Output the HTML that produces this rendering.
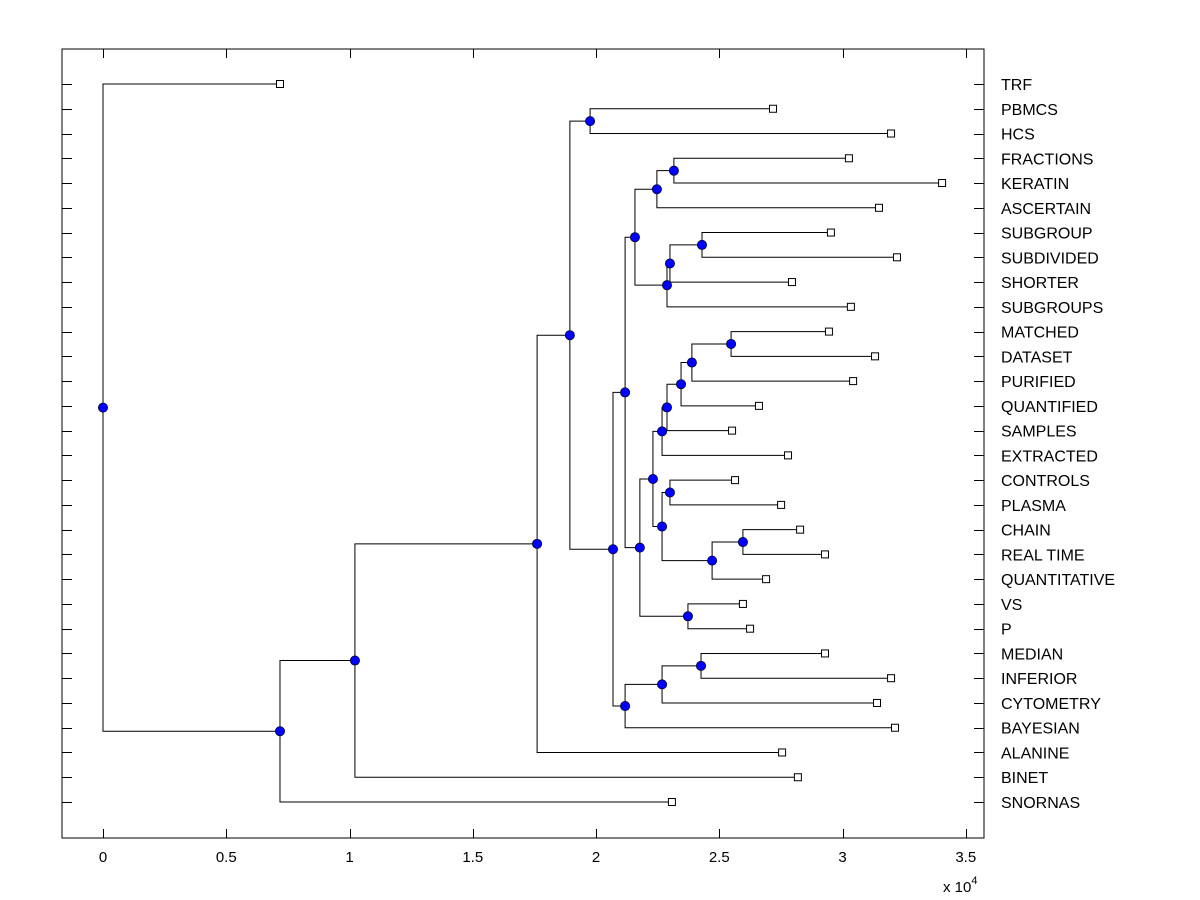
<!DOCTYPE html>
<html><head><meta charset="utf-8"><style>
html,body{margin:0;padding:0;background:#fff;}
svg{display:block;font-family:"Liberation Sans",Arial,sans-serif;}
</style></head><body>
<svg id="chart" width="1200" height="900" viewBox="0 0 1200 900" xmlns="http://www.w3.org/2000/svg">
<rect x="0" y="0" width="1200" height="900" fill="#fff"/>
<g id="ticks"></g>
<g id="links"></g>
<g id="marks"></g>
<g id="labels"></g>
<rect x="62" y="49" width="922" height="789" fill="none" stroke="#000" stroke-width="1"/>
<text x="943" y="892" font-size="15">x 10<tspan dy="-8" font-size="11">4</tspan></text>
</svg>
<script>
// Leaf labels (top to bottom) and their leaf heights (x, in units of 1e4)
const leafNames = ["TRF","PBMCS","HCS","FRACTIONS","KERATIN","ASCERTAIN","SUBGROUP","SUBDIVIDED","SHORTER","SUBGROUPS","MATCHED","DATASET","PURIFIED","QUANTIFIED","SAMPLES","EXTRACTED","CONTROLS","PLASMA","CHAIN","REAL TIME","QUANTITATIVE","VS","P","MEDIAN","INFERIOR","CYTOMETRY","BAYESIAN","ALANINE","BINET","SNORNAS"];
const leafValues = [0.718,2.718,3.197,3.026,3.404,3.148,2.953,3.221,2.795,3.034,2.945,3.132,3.043,2.661,2.552,2.779,2.564,2.751,2.828,2.929,2.690,2.596,2.625,2.929,3.197,3.140,3.213,2.755,2.819,2.308];
// Internal nodes: name, height, children (leaf names or node names)
const nodeNames =   ["root","A","B","C","D","E","F","G","I","K","K1","L1","L2","L3","J","M","M1","M2","M3","M4","M5","N","N1","N2","N3","O","H","H1","H2"];
const nodeValues =  [0,0.718,1.022,1.761,1.894,1.976,2.069,2.118,2.158,2.247,2.316,2.288,2.300,2.430,2.178,2.231,2.268,2.288,2.345,2.389,2.548,2.268,2.300,2.471,2.596,2.373,2.118,2.268,2.426];
const nodeChildren = [["TRF","A"],["B","SNORNAS"],["C","BINET"],["D","ALANINE"],["E","F"],["PBMCS","HCS"],["G","H"],["I","J"],["K","L1"],["K1","ASCERTAIN"],["FRACTIONS","KERATIN"],["L2","SUBGROUPS"],["L3","SHORTER"],["SUBGROUP","SUBDIVIDED"],["M","O"],["M1","N"],["M2","EXTRACTED"],["M3","SAMPLES"],["M4","QUANTIFIED"],["M5","PURIFIED"],["MATCHED","DATASET"],["N1","N2"],["CONTROLS","PLASMA"],["N3","QUANTITATIVE"],["CHAIN","REAL TIME"],["VS","P"],["H1","BAYESIAN"],["H2","CYTOMETRY"],["MEDIAN","INFERIOR"]];
const xTicks = [0,0.5,1,1.5,2,2.5,3,3.5];
const xTickLabels = ["0","0.5","1","1.5","2","2.5","3","3.5"];

const NS="http://www.w3.org/2000/svg";
const X0=103, XS=246.5, Y0=84, YS=718/29;
const xPos=v=>X0+v*XS;
const yPos=i=>Y0+i*YS;
function mk(tag,attrs,parent){const e=document.createElementNS(NS,tag);for(const k in attrs)e.setAttribute(k,attrs[k]);parent.appendChild(e);return e;}
const gT=document.getElementById('ticks'),gL=document.getElementById('links'),gM=document.getElementById('marks'),gLab=document.getElementById('labels');

const pos={};
leafNames.forEach((n,i)=>{pos[n]={x:xPos(leafValues[i]),y:yPos(i),leaf:true};});
function resolve(n){
  if(pos[n]) return pos[n];
  const k=nodeNames.indexOf(n);
  const ch=nodeChildren[k].map(resolve);
  pos[n]={x:xPos(nodeValues[k]),y:(ch[0].y+ch[1].y)/2,leaf:false};
  return pos[n];
}
nodeNames.forEach(resolve);

leafNames.forEach((n,i)=>{
  const y=Math.round(yPos(i))+0.5;
  let t=mk('line',{x1:62,x2:72,y1:y,y2:y,stroke:'#000'},gT);
  
  
  t=mk('line',{x1:974,x2:984,y1:y,y2:y,stroke:'#000'},gT);
  
  
  const lab=mk('text',{x:1001,y:yPos(i)+6,'font-size':16},gLab);
  lab.textContent=n;
  
  
});
xTicks.forEach((v,i)=>{
  const x=Math.round(xPos(v))+0.5;
  let t=mk('line',{x1:x,x2:x,y1:829,y2:838,stroke:'#000'},gT);
  
  
  t=mk('line',{x1:x,x2:x,y1:49,y2:58,stroke:'#000'},gT);
  
  
  const lab=mk('text',{x:xPos(v),y:862,'font-size':15,'text-anchor':'middle'},gT);
  lab.textContent=xTickLabels[i];
  
  
});
nodeNames.forEach((n,k)=>{
  const p=pos[n];
  nodeChildren[k].forEach(c=>{
    const q=pos[c];
    const pl=mk('polyline',{points:`${p.x},${p.y} ${p.x},${q.y} ${q.x},${q.y}`,fill:'none',stroke:'#000','stroke-width':1},gL);
    
    
  });
});
leafNames.forEach(n=>{
  const q=pos[n];
  const r=mk('rect',{x:q.x-3.5,y:q.y-3.5,width:7,height:7,fill:'#fff',stroke:'#000'},gM);
  
  
});
nodeNames.forEach(n=>{
  const p=pos[n];
  const c=mk('circle',{cx:p.x,cy:p.y,r:4.6,fill:'#0000ff',stroke:'#000033','stroke-width':0.8},gM);
  
  
});
</script>
</body></html>
